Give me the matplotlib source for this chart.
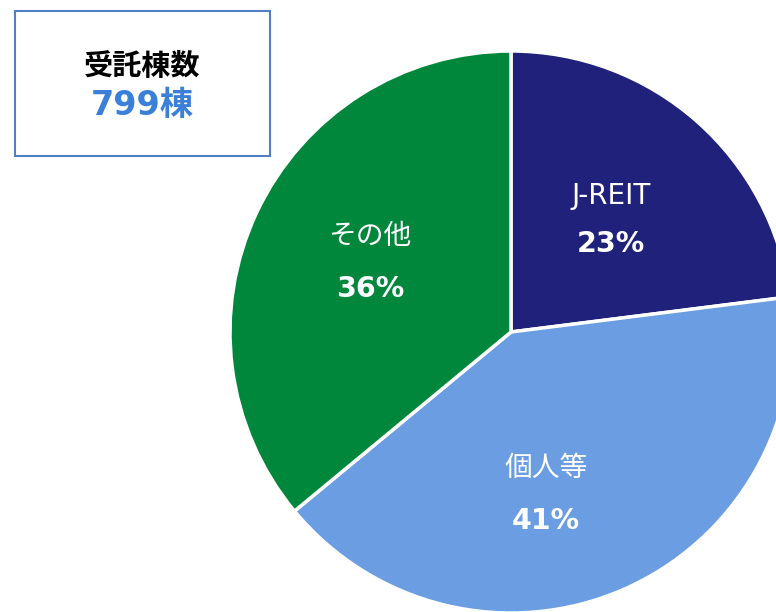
import matplotlib
matplotlib.use("Agg")
import matplotlib.pyplot as plt
from matplotlib.patches import Rectangle

plt.rcParams['font.family'] = ['Noto Sans CJK JP', 'DejaVu Sans']
LATIN = ['DejaVu Sans', 'Noto Sans CJK JP']

labels = ['J-REIT', '個人等', 'その他']
shares = [23, 41, 36]
colors = ['#1f217a', '#6a9de2', '#00873b']
total_title = '受託棟数'
total_value = '799棟'

W, H = 776, 612
fig = plt.figure(figsize=(W / 100, H / 100), dpi=100)
ax = fig.add_axes([0, 0, 1, 1])
ax.set_xlim(0, W)
ax.set_ylim(H, 0)
ax.set_aspect('equal')
ax.axis('off')

# pie drawn in pixel space; y axis is inverted so direction flips
wedges, _ = ax.pie(shares, colors=colors, startangle=-90, counterclock=True,
                   center=(511, 332), radius=281,
                   wedgeprops=dict(edgecolor='white', linewidth=2.5))
ax.set_xlim(0, W)
ax.set_ylim(H, 0)

label_pos = [(611, 196), (546, 468), (370, 236)]
pct_pos = [(611, 244), (546, 521), (370, 289)]
for lab, s, (lx, ly), (px, py) in zip(labels, shares, label_pos, pct_pos):
    ax.text(lx, ly, lab, color='white', fontsize=20, family=LATIN,
            ha='center', va='center')
    ax.text(px, py, f'{s}%', color='white', fontsize=20.5, fontweight='bold',
            family=LATIN, ha='center', va='center')

ax.add_patch(Rectangle((15, 11), 255, 145, facecolor='white',
                       edgecolor='#4f80c4', linewidth=1.5))
ax.text(142, 66, total_title, fontsize=21, fontweight='bold', color='black',
        ha='center', va='center')
ax.text(142, 105, total_value, fontsize=24, fontweight='bold', color='#3a7fd8',
        family=LATIN, ha='center', va='center')

fig.savefig('out.png', dpi=100)
